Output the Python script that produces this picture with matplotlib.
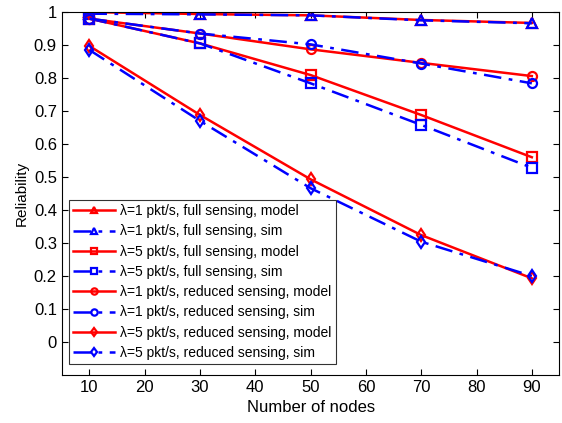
import matplotlib
matplotlib.use("Agg")
import matplotlib.pyplot as plt

plt.rcParams['font.family'] = ['Liberation Sans', 'DejaVu Sans']

nodes = [10, 30, 50, 70, 90]

full1_model = [1.0, 0.994, 0.99, 0.976, 0.967]
full1_sim = [0.995, 0.993, 0.99, 0.975, 0.966]
full5_model = [0.98, 0.905, 0.809, 0.688, 0.56]
full5_sim = [0.98, 0.905, 0.784, 0.658, 0.528]
red1_model = [0.98, 0.935, 0.887, 0.846, 0.806]
red1_sim = [0.98, 0.935, 0.902, 0.844, 0.784]
red5_model = [0.897, 0.688, 0.493, 0.324, 0.193]
red5_sim = [0.885, 0.67, 0.466, 0.304, 0.2]

labels = [
    'λ=1 pkt/s, full sensing, model',
    'λ=1 pkt/s, full sensing, sim',
    'λ=5 pkt/s, full sensing, model',
    'λ=5 pkt/s, full sensing, sim',
    'λ=1 pkt/s, reduced sensing, model',
    'λ=1 pkt/s, reduced sensing, sim',
    'λ=5 pkt/s, reduced sensing, model',
    'λ=5 pkt/s, reduced sensing, sim',
]

fig = plt.figure(figsize=(5.62, 4.23), dpi=100)
ax = fig.add_axes([0.110, 0.1135, 0.8855, 0.858])

dashdot = (0, (7, 3, 1.5, 3))
series = [
    (full1_model, 'red', '-', '^'),
    (full1_sim, 'blue', dashdot, '^'),
    (full5_model, 'red', '-', 's'),
    (full5_sim, 'blue', dashdot, 's'),
    (red1_model, 'red', '-', 'o'),
    (red1_sim, 'blue', dashdot, 'o'),
    (red5_model, 'red', '-', 'd'),
    (red5_sim, 'blue', dashdot, 'd'),
]
for (vals, col, ls, mk), lab in zip(series, labels):
    ax.plot(nodes, vals, color=col, linestyle=ls, linewidth=1.8, marker=mk,
            markersize=6.5, markerfacecolor='none', markeredgewidth=1.6, label=lab)

ax.set_xlim(5, 95)
ax.set_ylim(-0.1, 1.0)
ax.set_xticks([10, 20, 30, 40, 50, 60, 70, 80, 90])
ax.set_yticks([0, 0.1, 0.2, 0.3, 0.4, 0.5, 0.6, 0.7, 0.8, 0.9, 1])
ax.set_yticklabels(['0', '0.1', '0.2', '0.3', '0.4', '0.5', '0.6', '0.7', '0.8', '0.9', '1'])
ax.tick_params(direction='in', labelsize=12, length=4, top=True, right=True,
               labeltop=False, labelright=False)
ax.set_xlabel('Number of nodes', fontsize=12)
ax.set_ylabel('Reliability', fontsize=11)
for s in ax.spines.values():
    s.set_linewidth(0.8)

leg = ax.legend(loc='lower left', bbox_to_anchor=(0.014, 0.03), fontsize=10,
                frameon=True, fancybox=False, edgecolor='black', handlelength=3.0,
                borderpad=0.3, labelspacing=0.45, handletextpad=0.4,
                markerscale=0.7, borderaxespad=0)
leg.get_frame().set_linewidth(0.8)

fig.savefig('out.png', dpi=100)
